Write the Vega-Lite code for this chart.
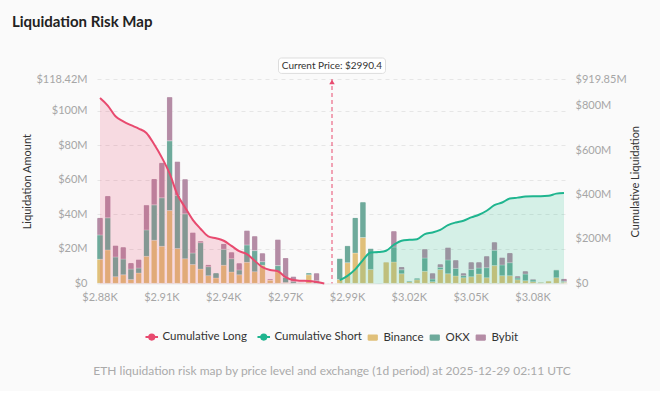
{
  "$schema": "https://vega.github.io/schema/vega-lite/v6.json",
  "background": "#fafafa",
  "padding": {"left": 11, "right": 19, "top": 14, "bottom": 14},
  "config": {"font": "Lato", "view": {"stroke": null}, "legend": {"layout": {"bottom": {"anchor": "middle"}}}},
  "title": {"text": "Liquidation Risk Map", "anchor": "start", "fontSize": 15, "fontWeight": "bold", "color": "#222222", "dx": -10, "offset": 28},
  "datasets": {
    "bins": [
      {"price": 2880.0, "Binance": 14.0, "OKX": 14.1, "Bybit": 10.1, "long": 834},
      {"price": 2883.6, "Binance": 19.4, "OKX": 18.6, "Bybit": 12.8, "long": 800},
      {"price": 2887.1, "Binance": 3.9, "OKX": 11.4, "Bybit": 6.8, "long": 752},
      {"price": 2890.7, "Binance": 5.0, "OKX": 9.1, "Bybit": 7.0, "long": 729},
      {"price": 2894.3, "Binance": 2.3, "OKX": 6.0, "Bybit": 3.7, "long": 712},
      {"price": 2897.9, "Binance": 6.0, "OKX": 2.9, "Bybit": 5.1, "long": 697},
      {"price": 2901.4, "Binance": 15.7, "OKX": 15.3, "Bybit": 14.5, "long": 677},
      {"price": 2905.0, "Binance": 25.0, "OKX": 20.5, "Bybit": 15.2, "long": 626},
      {"price": 2908.6, "Binance": 21.5, "OKX": 28.1, "Bybit": 20.4, "long": 566},
      {"price": 2912.1, "Binance": 42.2, "OKX": 40.4, "Bybit": 25.5, "long": 495},
      {"price": 2915.7, "Binance": 20.2, "OKX": 30.8, "Bybit": 19.7, "long": 400},
      {"price": 2919.3, "Binance": 14.3, "OKX": 26.0, "Bybit": 20.2, "long": 342},
      {"price": 2922.8, "Binance": 10.9, "OKX": 6.7, "Bybit": 12.1, "long": 286},
      {"price": 2926.4, "Binance": 8.3, "OKX": 15.3, "Bybit": 1.0, "long": 246},
      {"price": 2930.0, "Binance": 4.5, "OKX": 5.2, "Bybit": 1.2, "long": 212},
      {"price": 2933.6, "Binance": 3.1, "OKX": 3.1, "Bybit": 0, "long": 203},
      {"price": 2937.1, "Binance": 10.5, "OKX": 9.3, "Bybit": 3.3, "long": 192},
      {"price": 2940.7, "Binance": 6.6, "OKX": 7.7, "Bybit": 3.9, "long": 169},
      {"price": 2944.3, "Binance": 5.0, "OKX": 2.8, "Bybit": 4.0, "long": 145},
      {"price": 2947.8, "Binance": 12.2, "OKX": 10.1, "Bybit": 8.5, "long": 132},
      {"price": 2951.4, "Binance": 6.8, "OKX": 12.2, "Bybit": 8.5, "long": 102},
      {"price": 2955.0, "Binance": 10.5, "OKX": 2.1, "Bybit": 5.0, "long": 73},
      {"price": 2958.5, "Binance": 1.9, "OKX": 0, "Bybit": 0.8, "long": 60},
      {"price": 2962.1, "Binance": 6.8, "OKX": 3.5, "Bybit": 15.3, "long": 55},
      {"price": 2965.7, "Binance": 0.5, "OKX": 3.0, "Bybit": 11.4, "long": 28},
      {"price": 2969.3, "Binance": 0, "OKX": 1.0, "Bybit": 3.1, "long": 15},
      {"price": 2972.8, "Binance": 0.3, "OKX": 0.2, "Bybit": 0, "long": 12},
      {"price": 2976.4, "Binance": 5.0, "OKX": 1.2, "Bybit": 0, "long": 10.5},
      {"price": 2980.0, "Binance": 0, "OKX": 1.5, "Bybit": 4.5, "long": 6},
      {"price": 2983.5, "Binance": 0, "OKX": 0, "Bybit": 0, "long": 0},
      {"price": 2987.1, "Binance": 0, "OKX": 0, "Bybit": 0},
      {"price": 2990.7, "Binance": 2.3, "OKX": 12.2, "Bybit": 0, "short": 15},
      {"price": 2994.2, "Binance": 12.0, "OKX": 9.9, "Bybit": 0, "short": 34},
      {"price": 2997.8, "Binance": 17.6, "OKX": 20.6, "Bybit": 0, "short": 63},
      {"price": 3001.4, "Binance": 26.6, "OKX": 20.7, "Bybit": 0, "short": 105},
      {"price": 3005.0, "Binance": 8.1, "OKX": 12.2, "Bybit": 0, "short": 139},
      {"price": 3008.5, "Binance": 0, "OKX": 0.3, "Bybit": 0, "short": 141},
      {"price": 3012.1, "Binance": 12.4, "OKX": 0.2, "Bybit": 0, "short": 147},
      {"price": 3015.7, "Binance": 12.4, "OKX": 8.7, "Bybit": 9.3, "short": 174},
      {"price": 3019.2, "Binance": 5.6, "OKX": 2.3, "Bybit": 1.8, "short": 192},
      {"price": 3022.8, "Binance": 1.0, "OKX": 0.6, "Bybit": 0, "short": 196},
      {"price": 3026.4, "Binance": 2.1, "OKX": 1.0, "Bybit": 0, "short": 199},
      {"price": 3029.9, "Binance": 7.0, "OKX": 7.7, "Bybit": 5.3, "short": 222},
      {"price": 3033.5, "Binance": 1.0, "OKX": 1.5, "Bybit": 3.5, "short": 229},
      {"price": 3037.1, "Binance": 8.1, "OKX": 1.2, "Bybit": 1.9, "short": 241},
      {"price": 3040.7, "Binance": 5.6, "OKX": 8.0, "Bybit": 7.3, "short": 262},
      {"price": 3044.2, "Binance": 4.3, "OKX": 4.4, "Bybit": 4.9, "short": 274},
      {"price": 3047.8, "Binance": 3.3, "OKX": 1.2, "Bybit": 1.5, "short": 282},
      {"price": 3051.4, "Binance": 3.9, "OKX": 4.2, "Bybit": 4.3, "short": 297},
      {"price": 3054.9, "Binance": 5.4, "OKX": 3.5, "Bybit": 3.5, "short": 309},
      {"price": 3058.5, "Binance": 3.3, "OKX": 5.8, "Bybit": 6.8, "short": 327},
      {"price": 3062.1, "Binance": 10.3, "OKX": 8.9, "Bybit": 4.8, "short": 352},
      {"price": 3065.6, "Binance": 4.5, "OKX": 6.2, "Bybit": 4.4, "short": 364},
      {"price": 3069.2, "Binance": 4.5, "OKX": 7.5, "Bybit": 5.8, "short": 382},
      {"price": 3072.8, "Binance": 2.1, "OKX": 1.0, "Bybit": 1.2, "short": 386},
      {"price": 3076.4, "Binance": 1.6, "OKX": 3.8, "Bybit": 1.8, "short": 391},
      {"price": 3079.9, "Binance": 1.0, "OKX": 1.1, "Bybit": 0.6, "short": 392},
      {"price": 3083.5, "Binance": 0.6, "OKX": 0.4, "Bybit": 0, "short": 392},
      {"price": 3087.1, "Binance": 1.4, "OKX": 0.2, "Bybit": 0, "short": 394},
      {"price": 3090.6, "Binance": 3.3, "OKX": 4.5, "Bybit": 0.2, "short": 404},
      {"price": 3094.2, "Binance": 0.6, "OKX": 0.6, "Bybit": 1.7, "short": 407}
    ],
    "marker": [{"price": 2987.1, "label": "Current Price: $2990.4"}]
  },
  "resolve": {"scale": {"color": "independent"}, "legend": {"color": "independent"}},
  "vconcat": [
    {
      "width": 470,
      "height": 204.4,
      "title": {"text": "ETH liquidation risk map by price level and exchange (1d period) at 2025-12-29 02:11 UTC", "orient": "bottom", "anchor": "middle", "frame": "group", "fontSize": 12, "fontWeight": "normal", "color": "#aaaaaa", "offset": 22},
      "encoding": {
        "x": {
          "field": "price", "type": "ordinal",
          "scale": {"paddingInner": 0.22, "paddingOuter": 0},
          "axis": {"title": null, "values": [2880, 2908.6, 2937.1, 2965.7, 2994.2, 3022.8, 3051.4, 3079.9], "labelExpr": "'$' + format(datum.value / 1000, '.2f') + 'K'", "labelAngle": 0, "ticks": false, "domain": true, "domainColor": "#e3e3e3", "labelColor": "#a6a6a6", "labelFontSize": 11, "labelPadding": 8, "grid": false}
        }
      },
      "layer": [
        {
          "data": {"name": "bins"},
          "transform": [
            {"fold": ["Binance", "OKX", "Bybit"], "as": ["exchange", "amount"]},
            {"calculate": "indexof(['Binance', 'OKX', 'Bybit'], datum.exchange)", "as": "stackOrder"}
          ],
          "mark": {"type": "bar", "cornerRadiusTopLeft": 1.5, "cornerRadiusTopRight": 1.5, "stroke": "#ffffff", "strokeWidth": 0.5, "strokeOpacity": 0.5},
          "encoding": {
            "y": {
              "field": "amount", "type": "quantitative", "stack": "zero",
              "scale": {"domain": [0, 118.42], "nice": false},
              "axis": {"title": "Liquidation Amount", "values": [0, 20, 40, 60, 80, 100, 118.42], "labelExpr": "datum.value == 0 ? '$0' : '$' + datum.value + 'M'", "grid": true, "gridDash": [4, 4], "gridColor": "#e6e6e6", "domain": false, "ticks": false, "labelColor": "#a6a6a6", "labelFontSize": 11, "labelPadding": 10, "titleFontSize": 11, "titleFontWeight": "normal", "titleColor": "#333333", "titlePadding": 3}
            },
            "order": {"field": "stackOrder", "type": "quantitative", "sort": "ascending"},
            "color": {
              "field": "exchange", "type": "nominal",
              "scale": {"domain": ["Cumulative Long", "Cumulative Short", "Binance", "OKX", "Bybit"], "range": ["#e84a6f", "#1fb58f", "#e0c07a", "#6eaa9b", "#b48ca5"]},
              "legend": {
                "orient": "bottom", "direction": "horizontal", "title": null, "offset": 28,
                "labelFontSize": 11.5, "labelColor": "#333333", "symbolSize": 130, "labelOffset": 5, "columnPadding": 5,
                "encode": {"symbols": {"update": {
                  "shape": {"signal": "datum.label == 'Cumulative Long' || datum.label == 'Cumulative Short' ? 'M-1.1,0H-0.45M0.45,0H1.1M-0.45,0A0.45,0.45,0,1,1,0.45,0A0.45,0.45,0,1,1,-0.45,0' : 'M-0.7,-0.55H0.7A0.2,0.2,0,0,1,0.9,-0.35V0.35A0.2,0.2,0,0,1,0.7,0.55H-0.7A0.2,0.2,0,0,1,-0.9,0.35V-0.35A0.2,0.2,0,0,1,-0.7,-0.55Z'"},
                  "fill": {"signal": "datum.label == 'Binance' ? '#e0c07a' : datum.label == 'OKX' ? '#6eaa9b' : datum.label == 'Bybit' ? '#b48ca5' : '#fafafa'"},
                  "stroke": {"signal": "datum.label == 'Cumulative Long' ? '#e84a6f' : datum.label == 'Cumulative Short' ? '#1fb58f' : 'transparent'"},
                  "strokeWidth": {"signal": "datum.label == 'Cumulative Long' || datum.label == 'Cumulative Short' ? 2 : 0"},
                  "opacity": {"value": 1},
                  "fillOpacity": {"value": 1}
                }}}
              }
            }
          }
        },
        {
          "layer": [
            {
              "data": {"name": "bins"},
              "transform": [{"filter": "isValid(datum.long)"}],
              "mark": {"type": "area", "interpolate": "monotone", "color": "#e84a6f", "opacity": 0.18},
              "encoding": {
                "y": {
                  "field": "long", "type": "quantitative", "title": "Cumulative Liquidation",
                  "scale": {"domain": [0, 919.85], "nice": false},
                  "axis": {"orient": "right", "title": "Cumulative Liquidation", "titleAngle": 270, "values": [0, 200, 400, 600, 800, 919.85], "labelExpr": "datum.value == 0 ? '$0' : '$' + datum.value + 'M'", "grid": false, "domain": false, "ticks": false, "labelColor": "#a6a6a6", "labelFontSize": 11, "labelPadding": 8, "titleFontSize": 11, "titleFontWeight": "normal", "titleColor": "#333333", "titlePadding": 14}
                }
              }
            },
            {
              "data": {"name": "bins"},
              "transform": [{"filter": "isValid(datum.short)"}],
              "mark": {"type": "area", "interpolate": "monotone", "color": "#20c08a", "opacity": 0.17},
              "encoding": {"y": {"field": "short", "type": "quantitative", "title": "Cumulative Liquidation"}}
            },
            {
              "data": {"name": "bins"},
              "transform": [{"filter": "isValid(datum.long)"}],
              "mark": {"type": "line", "interpolate": "monotone", "strokeWidth": 2},
              "encoding": {
                "y": {"field": "long", "type": "quantitative", "title": "Cumulative Liquidation"},
                "color": {
                  "datum": "Cumulative Long",
                  "legend": {
                    "orient": "bottom", "direction": "horizontal", "title": null, "offset": 28,
                    "labelFontSize": 11.5, "labelColor": "#333333", "symbolSize": 130, "labelOffset": 5, "columnPadding": 5,
                    "encode": {"symbols": {"update": {
                      "shape": {"signal": "datum.label == 'Cumulative Long' || datum.label == 'Cumulative Short' ? 'M-1.1,0H-0.45M0.45,0H1.1M-0.45,0A0.45,0.45,0,1,1,0.45,0A0.45,0.45,0,1,1,-0.45,0' : 'M-0.7,-0.55H0.7A0.2,0.2,0,0,1,0.9,-0.35V0.35A0.2,0.2,0,0,1,0.7,0.55H-0.7A0.2,0.2,0,0,1,-0.9,0.35V-0.35A0.2,0.2,0,0,1,-0.7,-0.55Z'"},
                      "fill": {"signal": "datum.label == 'Binance' ? '#e0c07a' : datum.label == 'OKX' ? '#6eaa9b' : datum.label == 'Bybit' ? '#b48ca5' : '#fafafa'"},
                      "stroke": {"signal": "datum.label == 'Cumulative Long' ? '#e84a6f' : datum.label == 'Cumulative Short' ? '#1fb58f' : 'transparent'"},
                      "strokeWidth": {"signal": "datum.label == 'Cumulative Long' || datum.label == 'Cumulative Short' ? 2 : 0"},
                      "opacity": {"value": 1},
                      "fillOpacity": {"value": 1}
                    }}}
                  }
                }
              }
            },
            {
              "data": {"name": "bins"},
              "transform": [{"filter": "isValid(datum.short)"}],
              "mark": {"type": "line", "interpolate": "monotone", "strokeWidth": 2},
              "encoding": {
                "y": {"field": "short", "type": "quantitative", "title": "Cumulative Liquidation"},
                "color": {
                  "datum": "Cumulative Short",
                  "legend": {
                    "orient": "bottom", "direction": "horizontal", "title": null, "offset": 28,
                    "labelFontSize": 11.5, "labelColor": "#333333", "symbolSize": 130, "labelOffset": 5, "columnPadding": 5,
                    "encode": {"symbols": {"update": {
                      "shape": {"signal": "datum.label == 'Cumulative Long' || datum.label == 'Cumulative Short' ? 'M-1.1,0H-0.45M0.45,0H1.1M-0.45,0A0.45,0.45,0,1,1,0.45,0A0.45,0.45,0,1,1,-0.45,0' : 'M-0.7,-0.55H0.7A0.2,0.2,0,0,1,0.9,-0.35V0.35A0.2,0.2,0,0,1,0.7,0.55H-0.7A0.2,0.2,0,0,1,-0.9,0.35V-0.35A0.2,0.2,0,0,1,-0.7,-0.55Z'"},
                      "fill": {"signal": "datum.label == 'Binance' ? '#e0c07a' : datum.label == 'OKX' ? '#6eaa9b' : datum.label == 'Bybit' ? '#b48ca5' : '#fafafa'"},
                      "stroke": {"signal": "datum.label == 'Cumulative Long' ? '#e84a6f' : datum.label == 'Cumulative Short' ? '#1fb58f' : 'transparent'"},
                      "strokeWidth": {"signal": "datum.label == 'Cumulative Long' || datum.label == 'Cumulative Short' ? 2 : 0"},
                      "opacity": {"value": 1},
                      "fillOpacity": {"value": 1}
                    }}}
                  }
                }
              }
            },
            {
              "data": {"name": "marker"},
              "mark": {"type": "rule", "color": "#e84a6f", "strokeDash": [4, 3], "strokeWidth": 1},
              "encoding": {}
            },
            {
              "data": {"name": "marker"},
              "mark": {"type": "point", "shape": "triangle-up", "filled": true, "size": 30, "color": "#e84a6f", "opacity": 1, "yOffset": 3},
              "encoding": {"y": {"datum": 919.85}}
            },
            {
              "data": {"name": "marker"},
              "mark": {"type": "bar", "width": 107, "fill": "#ffffff", "stroke": "#dddddd", "strokeWidth": 1, "cornerRadius": 3, "yOffset": -21, "y2Offset": -5.6},
              "encoding": {"y": {"datum": 919.85}, "y2": {"datum": 919.85}}
            },
            {
              "data": {"name": "marker"},
              "mark": {"type": "text", "fontSize": 10, "color": "#333333", "baseline": "middle", "yOffset": -13},
              "encoding": {"y": {"datum": 919.85}, "text": {"field": "label"}}
            }
          ]
        }
      ],
      "resolve": {"scale": {"y": "independent"}, "axis": {"y": "independent"}}
    }
  ]
}
